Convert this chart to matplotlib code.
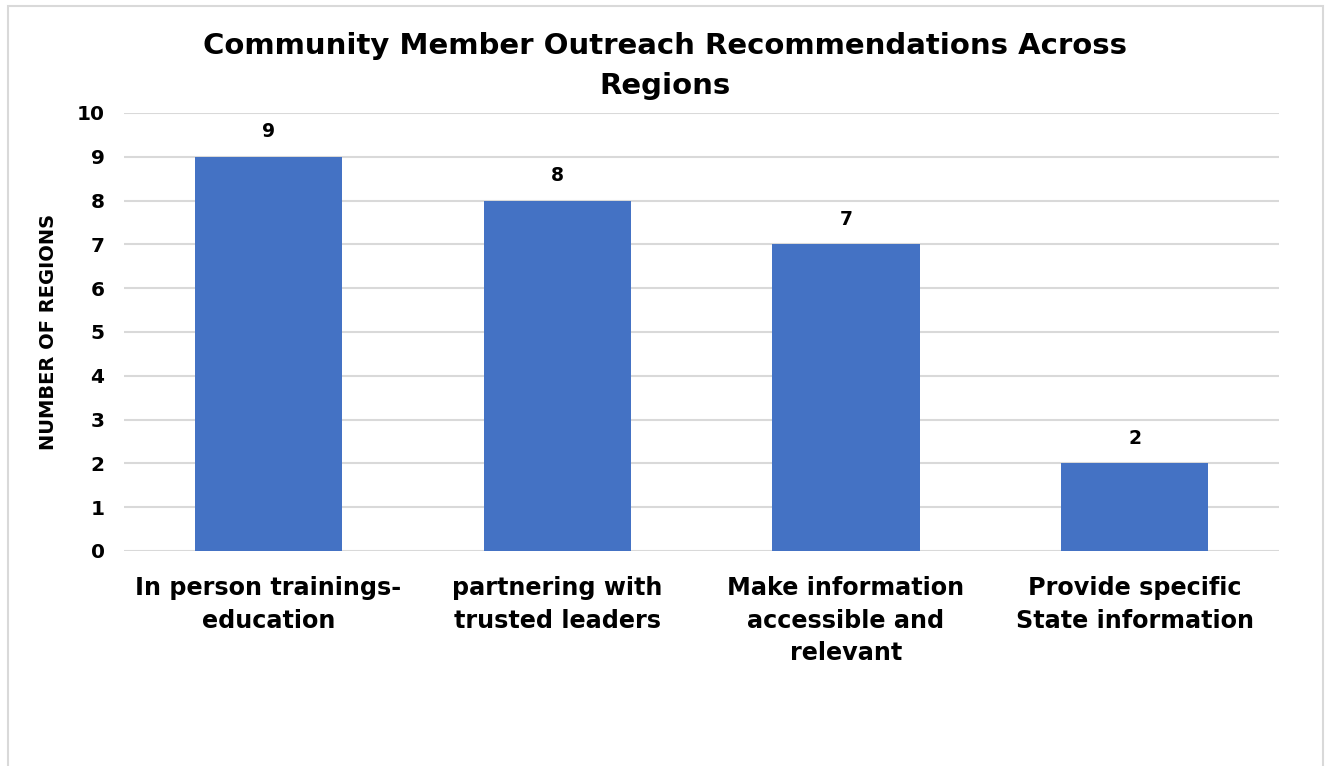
import matplotlib.pyplot as plt
from matplotlib.patches import Rectangle

categories = ['In person trainings-\neducation', 'partnering with\ntrusted leaders',
              'Make information\naccessible and\nrelevant', 'Provide specific\nState information']
regions = [9, 8, 7, 2]

plt.rcParams['font.family'] = ['DejaVu Sans']
plt.rcParams['font.weight'] = 'bold'

fig = plt.figure(figsize=(13.25, 7.66), dpi=100)
ax = fig.add_axes([0.0936, 0.2807, 0.8717, 0.5718])

x = range(len(categories))
bars = ax.bar(x, regions, width=0.51, color='#4472C4', zorder=3)
for b, v in zip(bars, regions):
    ax.text(b.get_x() + b.get_width() / 2, v + 0.36, str(v), ha='center', va='bottom',
            fontsize=13.5, fontweight='bold')

ax.set_xlim(-0.5, len(categories) - 0.5)
ax.set_ylim(0, 10)
ax.set_yticks(range(0, 11))
ax.set_xticks(list(x))
ax.set_xticklabels(categories, fontsize=17.2, fontweight='bold', linespacing=1.46)
ax.tick_params(axis='y', labelsize=14.5, length=0, pad=14)
ax.tick_params(axis='x', length=0, pad=18)
ax.grid(axis='y', color='#d9d9d9', linewidth=1.5, zorder=0)
for s in ax.spines.values():
    s.set_visible(False)

ax.set_ylabel('NUMBER OF REGIONS', fontsize=14, fontweight='bold')
ax.yaxis.set_label_coords(-0.0573, 0.5)

fig.suptitle('Community Member Outreach Recommendations Across\nRegions', x=0.502, y=0.958,
             fontsize=21, fontweight='bold', linespacing=1.54)

# chart frame
fig.patches.append(Rectangle((8 / 1325, -0.05), 1315 / 1325, 1 - 6 / 766 + 0.05,
                             transform=fig.transFigure, fill=False,
                             edgecolor='#d9d9d9', linewidth=1.5))

fig.savefig('out.png', dpi=100)
